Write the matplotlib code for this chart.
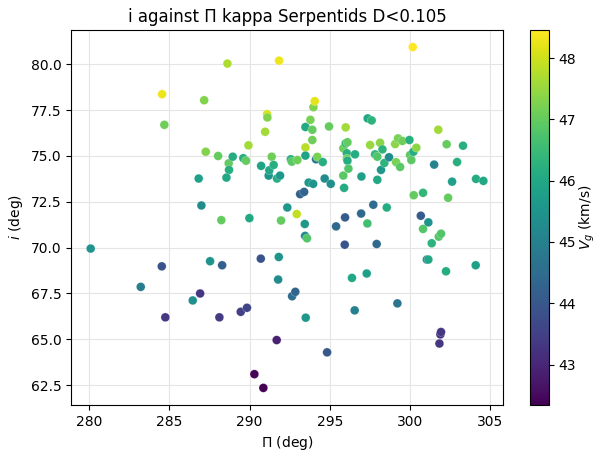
import numpy as np
import matplotlib
matplotlib.use('Agg')
import matplotlib.pyplot as plt

# node longitude Pi (deg)
pi_deg = [280.1, 283.22, 284.53, 284.55, 284.69, 284.75, 286.46, 286.92, 287.0, 287.17,
          287.27, 287.54, 288.04, 288.12, 288.24, 288.29, 288.62, 288.7, 288.72, 288.56,
          286.83, 288.95, 289.45, 289.84, 289.61, 289.78, 289.93, 289.99, 290.3, 290.7,
          290.72, 290.86, 290.97, 291.09, 291.11, 291.19, 291.23, 291.38, 291.5, 291.69,
          291.71, 291.78, 291.82, 291.84, 291.9, 291.96, 292.35, 292.57, 292.63, 292.65,
          292.85, 292.94, 292.98, 293.15, 293.4, 293.44, 293.46, 293.58, 293.48, 293.48,
          293.48, 293.5, 293.68, 293.79, 293.91, 293.91, 293.96, 293.98, 294.06, 294.14,
          294.22, 294.56, 294.68, 294.83, 294.95, 295.06, 295.39, 295.84, 295.84, 295.89,
          295.93, 295.95, 295.99, 295.99, 296.1, 296.06, 296.06, 296.1, 296.16, 296.38,
          296.55, 296.57, 296.95, 296.97, 297.3, 297.34, 297.36, 297.61, 297.51, 297.71,
          297.82, 297.92, 297.96, 297.96, 298.13, 298.19, 298.28, 298.4, 298.55, 298.69,
          299.07, 299.13, 299.21, 299.25, 299.38, 299.52, 299.96, 300.0, 300.08, 300.17,
          300.21, 300.23, 300.39, 300.67, 300.81, 300.81, 301.05, 301.14, 301.14, 301.35,
          301.5, 301.76, 301.79, 301.93, 301.83, 301.89, 301.93, 302.24, 302.28, 302.37,
          302.62, 302.93, 303.3, 304.09, 304.11, 304.57]

# inclination i (deg)
incl = [69.95, 67.86, 68.98, 78.37, 76.7, 66.2, 67.12, 67.5, 72.3, 78.04,
        75.23, 69.26, 75.0, 66.2, 71.5, 69.04, 80.04, 74.6, 74.24, 73.82,
        73.77, 74.96, 66.5, 66.72, 74.88, 74.74, 75.58, 71.61, 63.1, 69.4,
        74.46, 62.35, 76.32, 77.28, 77.1, 73.93, 74.22, 74.96, 74.51, 64.96,
        73.77, 68.26, 69.49, 80.2, 73.93, 71.48, 72.19, 74.82, 74.69, 67.35,
        67.59, 71.83, 74.78, 72.92, 73.04, 71.29, 70.64, 70.51, 76.58, 75.47,
        75.02, 66.18, 73.55, 76.97, 76.43, 75.87, 73.48, 77.66, 77.99, 74.82,
        74.95, 74.67, 73.77, 64.29, 76.61, 73.48, 71.16, 75.42, 73.93, 73.26,
        70.16, 71.65, 76.56, 75.69, 75.75, 75.15, 74.85, 74.74, 74.31, 68.35,
        66.58, 75.09, 71.86, 73.88, 68.59, 71.32, 77.05, 76.94, 75.6, 72.34,
        75.09, 70.2, 73.7, 74.96, 75.72, 74.24, 75.36, 74.62, 72.19, 74.93,
        75.65, 74.66, 66.96, 75.96, 74.4, 75.82, 75.87, 75.05, 74.78, 80.94,
        75.23, 72.86, 75.45, 71.74, 72.99, 71.02, 69.35, 69.35, 71.38, 70.24,
        74.53, 76.43, 70.6, 70.76, 64.77, 65.27, 65.4, 68.71, 75.64, 72.72,
        73.6, 74.67, 75.56, 69.04, 73.75, 73.64]

# geocentric velocity Vg (km/s)
vg = [45.5, 44.9, 43.9, 48.3, 47.1, 43.3, 45.4, 43.3, 45.3, 47.3,
      47.3, 45.5, 47.0, 43.4, 47.0, 44.2, 47.7, 47.0, 46.2, 46.0,
      45.8, 46.1, 43.5, 43.6, 46.2, 47.0, 47.6, 46.0, 42.4, 43.9,
      45.9, 42.34, 47.6, 48.1, 47.3, 45.5, 46.0, 47.1, 46.2, 42.9,
      46.1, 45.3, 45.5, 48.3, 45.6, 47.0, 45.6, 46.2, 46.9, 44.5,
      44.3, 47.9, 47.1, 44.2, 44.3, 45.6, 45.2, 46.8, 46.0, 47.8,
      45.9, 45.6, 45.6, 47.2, 47.0, 47.1, 45.5, 47.3, 48.2, 44.8,
      47.2, 46.2, 45.3, 44.0, 47.0, 45.4, 44.4, 47.1, 46.9, 46.1,
      43.9, 44.1, 47.6, 46.4, 47.0, 46.2, 47.2, 46.1, 46.8, 46.0,
      45.0, 46.1, 44.4, 45.8, 45.8, 46.6, 46.0, 46.3, 47.5, 44.5,
      46.4, 44.4, 46.0, 46.8, 47.4, 45.6, 46.3, 46.3, 46.1, 45.3,
      47.4, 47.2, 44.7, 47.2, 46.9, 47.1, 46.2, 46.9, 46.9, 48.46,
      46.1, 47.0, 47.4, 44.1, 46.4, 46.8, 44.8, 46.0, 45.5, 46.3,
      45.1, 47.6, 46.8, 46.8, 43.3, 43.2, 43.3, 46.1, 47.0, 47.0,
      45.8, 46.2, 46.2, 45.8, 46.1, 46.0]

fig = plt.figure(figsize=(5.97, 4.55), dpi=100)
ax = fig.add_axes([0.119, 0.110, 0.7236, 0.824])
cax = fig.add_axes([0.8878, 0.110, 0.0318, 0.824])

ax.grid(True, color='#e5e5e5', linewidth=0.8)
ax.set_axisbelow(True)
sc = ax.scatter(pi_deg, incl, c=vg, cmap='viridis', s=40,
                edgecolors=(1, 1, 1, 0.5), linewidths=0.3)

ax.set_title('i against \u03a0 kappa Serpentids D<0.105')
ax.set_xlabel(r'$\mathit{\Pi}$ (deg)')
ax.set_ylabel(r'$i$ (deg)')

cb = fig.colorbar(sc, cax=cax)
cb.set_label(r'$V_g$ (km/s)', labelpad=1)
cb.outline.set_linewidth(0.8)

fig.savefig('out.png', dpi=100)
plt.close(fig)
